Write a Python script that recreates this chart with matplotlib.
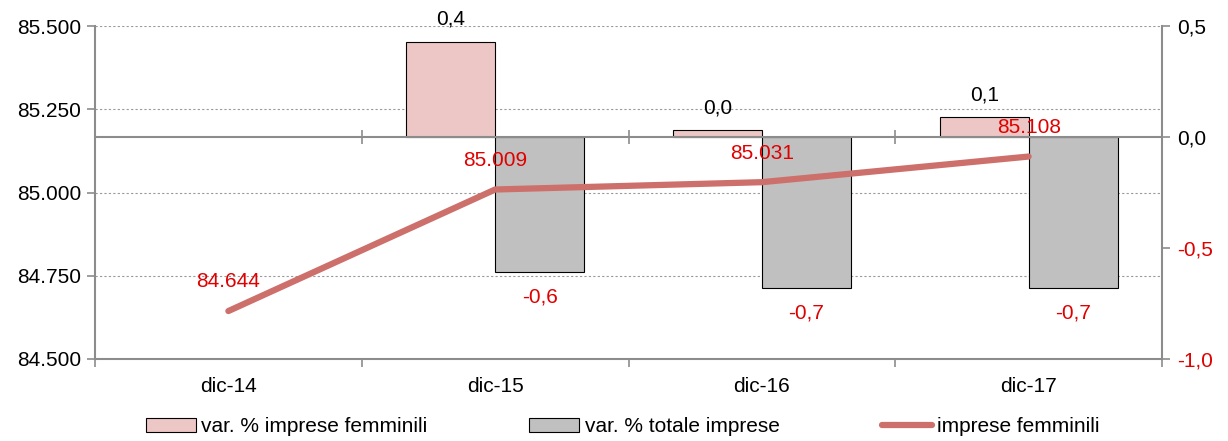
import numpy as np
import matplotlib.pyplot as plt
from matplotlib.ticker import FuncFormatter

plt.rcParams["font.family"] = ["Liberation Sans", "DejaVu Sans"]

# ---------------------------------------------------------------------------
# Data
# ---------------------------------------------------------------------------
categories = ["dic-14", "dic-15", "dic-16", "dic-17"]
var_femminili = [np.nan, 0.43, 0.03, 0.09]      # right axis, %
var_totale = [np.nan, -0.61, -0.68, -0.68]      # right axis, %
imprese_femminili = [84644, 85009, 85031, 85108]  # left axis

left_ticks = [84500, 84750, 85000, 85250, 85500]
right_ticks = [-1.0, -0.5, 0.0, 0.5]

PINK = "#ECC7C5"
GREY = "#C0C0C0"
LINE = "#CD6F6A"
RED = "#E00000"
AXIS = "#8C8C8C"
FS = 15


def it_num(v, dec):
    s = f"{v:,.{dec}f}"
    return s.replace(",", "X").replace(".", ",").replace("X", ".")


def main():
    fig = plt.figure(figsize=(12.28, 4.41), dpi=100)
    ax = fig.add_axes([95 / 1228, 1 - 359 / 441, (1162 - 95) / 1228, 333 / 441])
    ax2 = ax.twinx()

    x = np.arange(len(categories))
    w = 1 / 3

    # bars on the secondary (right) axis
    ax2.set_ylim(-1.0, 0.5)
    ax.set_ylim(84500, 85500)
    ax.set_xlim(-0.5, len(categories) - 0.5)

    # grid lines of the left axis, drawn behind the bars
    lo, hi = ax.get_ylim()
    rlo, rhi = ax2.get_ylim()
    for t in left_ticks[1:]:
        r = rlo + (t - lo) / (hi - lo) * (rhi - rlo)
        ax2.axhline(r, color="#9A9A9A", lw=0.8, ls=(0, (2, 2)), zorder=0)

    ax2.bar(x - w / 2, var_femminili, w, color=PINK, edgecolor="black",
            linewidth=0.8, zorder=2, label="var. % imprese femminili")
    ax2.bar(x + w / 2, var_totale, w, color=GREY, edgecolor="black",
            linewidth=0.8, zorder=2, label="var. % totale imprese")

    # zero axis with category ticks
    ax2.axhline(0, color=AXIS, lw=1.5, zorder=3)
    bounds = np.arange(len(categories) + 1) - 0.5
    ax2.plot(bounds, np.zeros_like(bounds), ls="none", marker="|",
             markersize=10, markeredgewidth=1.2, color=AXIS, zorder=3,
             clip_on=False)

    for xi, v in zip(x, var_femminili):
        if not np.isnan(v):
            ax2.annotate(it_num(v, 1), (xi - w / 2, v), xytext=(0, 16),
                         textcoords="offset points", ha="center", va="center",
                         fontsize=FS, color="black")
    for xi, v in zip(x, var_totale):
        if not np.isnan(v):
            ax2.annotate(it_num(v, 1), (xi + w / 2, v), xytext=(0, -18),
                         textcoords="offset points", ha="center", va="center",
                         fontsize=FS, color=RED)

    # line on the primary (left) axis, drawn on top
    ax.set_zorder(ax2.get_zorder() + 1)
    ax.patch.set_visible(False)
    ax.plot(x, imprese_femminili, color=LINE, lw=4.5, solid_capstyle="round",
            label="imprese femminili", zorder=4)
    for xi, v in zip(x, imprese_femminili):
        ax.annotate(it_num(v, 0), (xi, v), xytext=(0, 21),
                    textcoords="offset points", ha="center", va="center",
                    fontsize=FS, color=RED)

    # axes styling
    ax.set_yticks(left_ticks)
    ax.yaxis.set_major_formatter(FuncFormatter(lambda v, p: it_num(v, 0)))
    ax2.set_yticks(right_ticks)
    ax2.yaxis.set_major_formatter(FuncFormatter(lambda v, p: it_num(v, 1)))
    for lab, t in zip(ax2.get_yticklabels(), right_ticks):
        lab.set_color(RED if t < 0 else "black")

    ax.set_xticks(x)
    ax.set_xticklabels(categories)
    ax.set_xticks(bounds, minor=True)
    ax.tick_params(axis="x", which="major", length=0, pad=13, labelsize=FS)
    ax.tick_params(axis="x", which="minor", length=6, width=1.2, color=AXIS)
    ax.tick_params(axis="y", length=6, width=1.2, color=AXIS, labelsize=FS,
                   pad=4)
    ax2.tick_params(axis="y", length=6, width=1.2, color=AXIS, labelsize=FS,
                    pad=5)
    ax2.tick_params(axis="x", which="both", bottom=False, labelbottom=False)

    for a in (ax, ax2):
        a.spines["top"].set_visible(False)
        for s in ("left", "right", "bottom"):
            a.spines[s].set_color(AXIS)
            a.spines[s].set_linewidth(1.5)
    ax.spines["right"].set_visible(False)
    ax2.spines["left"].set_visible(False)
    ax2.spines["bottom"].set_visible(False)

    h1, l1 = ax2.get_legend_handles_labels()
    h2, l2 = ax.get_legend_handles_labels()
    fig.legend(h1 + h2, l1 + l2, loc="center", bbox_to_anchor=(0.507, 0.032),
               ncol=3, frameon=False, fontsize=FS, columnspacing=4.9,
               handlelength=2.4, handletextpad=0.25)

    fig.savefig("out.png", dpi=100, facecolor="white")
    plt.close(fig)


if __name__ == "__main__":
    main()
